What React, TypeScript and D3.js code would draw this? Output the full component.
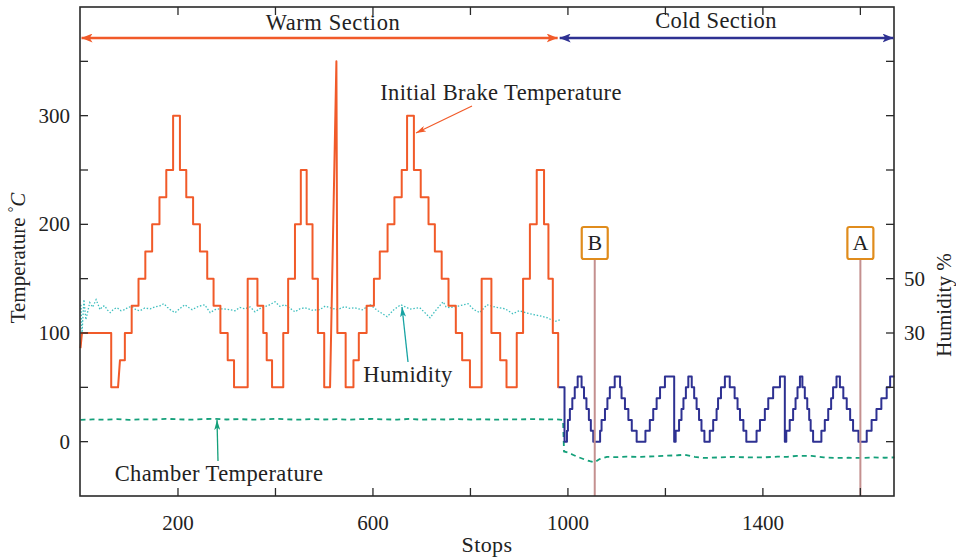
import React, { useEffect, useRef } from 'react';
import * as d3 from 'd3';

const W = 956;
const H = 557;

const xTicks = [200, 400, 600, 800, 1000, 1200, 1400, 1600];
const xLabeled = [200, 600, 1000, 1400];
const yTicks = [0, 50, 100, 150, 200, 250, 300, 350];
const yLabeled = [0, 100, 200, 300];
const humidityTicks = [-10, 10, 30, 50, 70, 90, 110, 130];
const humidityLabeled = [30, 50];

// Initial brake temperature, warm section: [stop, temperature, ramp(1) or step]
const warmBrake: number[][] = [
  [0, 86], [3, 100, 1], [63, 50], [77, 50], [81, 75, 1], [91, 100], [105, 125], [119, 150],
  [133, 175], [147, 200], [162, 225], [176, 250], [190, 300], [204, 250], [217, 225],
  [231, 200], [245, 175], [260, 150], [273, 125], [287, 100], [302, 75], [315, 50],
  [343, 150], [363, 125], [375, 100], [382, 75], [393, 50], [416, 100], [426, 150],
  [440, 200], [452, 250], [464, 200], [476, 150], [487, 100], [500, 50], [512, 50],
  [525, 350, 1], [527, 100, 1], [544, 50], [560, 75], [571, 100], [587, 125], [602, 150],
  [614, 175], [630, 200], [644, 225], [659, 250], [670, 300], [684, 250], [698, 225],
  [714, 200], [727, 175], [741, 150], [755, 125], [770, 100], [783, 75], [799, 50],
  [823, 150], [843, 100], [861, 75], [874, 50], [895, 100], [908, 150], [922, 200],
  [936, 250], [951, 200], [960, 150], [969, 100], [980, 50], [981, 50],
];

// Initial brake temperature, cold section
const coldBrake: number[][] = [
  [981, 50], [993, 0], [998, 10], [1000, 20], [1004, 30], [1009, 40], [1014, 50], [1020, 60],
  [1028, 50], [1033, 40], [1038, 30], [1043, 20], [1047, 10], [1052, 0],
  [1066, 10], [1069, 20], [1076, 30], [1081, 40], [1086, 50], [1096, 60],
  [1107, 50], [1110, 40], [1117, 30], [1124, 20], [1131, 10], [1141, 0],
  [1159, 10], [1168, 20], [1175, 30], [1182, 40], [1189, 50], [1199, 60], [1218, 0],
  [1221, 10], [1228, 20], [1233, 30], [1237, 40], [1242, 50], [1247, 60],
  [1254, 50], [1259, 40], [1264, 30], [1269, 20], [1274, 10], [1280, 0],
  [1291, 10], [1298, 20], [1305, 30], [1308, 40], [1314, 50], [1322, 60],
  [1332, 50], [1342, 40], [1348, 30], [1353, 20], [1360, 10], [1366, 0],
  [1387, 10], [1394, 20], [1404, 30], [1411, 40], [1421, 50], [1435, 60], [1445, 0],
  [1448, 10], [1455, 20], [1462, 30], [1467, 40], [1471, 50], [1476, 60],
  [1481, 50], [1486, 40], [1491, 30], [1495, 20], [1498, 10], [1503, 0],
  [1520, 10], [1527, 20], [1534, 30], [1540, 40], [1544, 50], [1551, 60],
  [1558, 50], [1565, 40], [1572, 30], [1579, 20], [1585, 10], [1596, 0],
  [1613, 10], [1623, 20], [1633, 30], [1643, 40], [1654, 50], [1661, 60], [1670, 60],
];

// Humidity % (right axis), warm section
const humidity: number[][] = [
  [1, 40.4], [3, 29.4], [5, 36], [7, 42.3], [11, 34.9], [15, 38], [19, 41.2], [25, 39.5],
  [32, 42.3], [36, 40.5], [40, 38.6], [45, 39.8], [50, 40], [55, 38.5], [61, 37.5],
  [68, 38.8], [75, 39.3], [83, 38.2], [91, 38.6], [98, 39.5], [106, 39.7], [114, 38.5],
  [122, 38.2], [132, 39.2], [143, 38.9], [153, 39.6], [163, 40], [171, 40.8], [178, 39.5],
  [184, 38.6], [194, 37.5], [204, 39], [214, 40.4], [222, 39.4], [229, 38.6], [242, 39.8],
  [255, 40.4], [266, 37.5], [276, 38.6], [286, 38.9], [300, 38.8], [317, 38.2], [327, 39.4],
  [337, 38.9], [348, 39.6], [358, 37.8], [370, 39.2], [385, 40.1], [399, 41.5], [409, 39.8],
  [419, 40.4], [430, 39.1], [440, 37.8], [450, 38.9], [460, 39.3], [475, 38.4], [491, 38.6],
  [502, 39.9], [512, 39.3], [527, 38.6], [542, 39.7], [552, 39.1], [563, 39.3], [578, 38.5],
  [594, 40.4], [610, 38.2], [629, 36], [643, 38.6], [657, 40.4], [676, 38.8], [696, 39.3],
  [707, 37.4], [717, 35.6], [731, 38.8], [744, 41.5], [750, 39.6], [758, 39.3], [775, 39.9],
  [795, 40.8], [807, 38.6], [819, 37.5], [834, 40.4], [852, 39.5], [871, 38.9], [887, 37.1],
  [900, 38.2], [915, 37.4], [932, 36.7], [945, 36.2], [958, 35.6], [973, 34.2], [984, 34.9],
];

// Chamber temperature
const chamber: number[][] = [
  [0, 20], [25, 20.5], [50, 20.2], [75, 20.8], [100, 20], [125, 20.6], [150, 20.4],
  [175, 21], [200, 20.6], [225, 20.2], [250, 20.8], [275, 21], [300, 20.4], [325, 20.8],
  [350, 20.2], [375, 20.6], [400, 21], [425, 20.5], [450, 20.2], [475, 20.8], [500, 20.4],
  [525, 20.7], [550, 20.2], [575, 20.8], [600, 20.9], [625, 20.5], [650, 20.3], [675, 20.9],
  [700, 20.2], [725, 20.6], [750, 20.4], [775, 20.8], [800, 20.3], [825, 20.7], [850, 20.2],
  [875, 20.6], [900, 20.4], [925, 20.8], [950, 20.5], [975, 20.6], [990, 20], [992, -9],
  [1000, -10], [1010, -12], [1020, -14], [1035, -16.5], [1045, -18], [1055, -19], [1065, -16],
  [1080, -14], [1100, -14.3], [1120, -13.8], [1150, -14], [1175, -13.5], [1200, -13],
  [1225, -12.5], [1240, -12], [1260, -14], [1280, -15], [1310, -14.5], [1340, -14],
  [1370, -14.5], [1400, -14.5], [1430, -13.8], [1450, -14], [1470, -13], [1500, -13],
  [1525, -14.5], [1550, -15], [1575, -14.8], [1600, -15], [1625, -14.5], [1650, -14.8], [1670, -14.5],
];

const markers = [
  { label: 'B', stop: 1055 },
  { label: 'A', stop: 1600 },
];

const sectionStart = 0;
const sectionBoundary = 981;
const sectionEnd = 1670;

const COLORS = {
  warm: '#f15a29',
  cold: '#2e3192',
  humidity: '#3fbfbf',
  chamber: '#14a07a',
  marker: '#c4908f',
  box: '#e08c1c',
  axis: '#2a2a2a',
};

const FONT = "'Liberation Serif', 'DejaVu Serif', serif";

function stepPoints(bps: number[][]): [number, number][] {
  const pts: [number, number][] = [];
  let prev: number | null = null;
  for (const bp of bps) {
    const [s, t, ramp] = bp;
    if (prev === null || ramp) pts.push([s, t]);
    else {
      pts.push([s, prev]);
      pts.push([s, t]);
    }
    prev = t;
  }
  return pts;
}

export default function App() {
  const ref = useRef<SVGSVGElement | null>(null);

  useEffect(() => {
    const svg = d3.select(ref.current);
    svg.selectAll('*').remove();

    const left = 80, right = 894, top = 7, bottom = 496;
    const x = d3.scaleLinear().domain([0, 1670]).range([left + 0.5, right + 0.5]);
    const y = d3.scaleLinear().domain([-50, 400]).range([bottom, top]);
    const yH = d3.scaleLinear().domain([-30, 150]).range([bottom, top]);

    const defs = svg.append('defs');
    const mk = (id: string, color: string, w: number, h: number) => {
      defs.append('marker')
        .attr('id', id)
        .attr('viewBox', `0 0 ${w} ${h}`)
        .attr('refX', w)
        .attr('refY', h / 2)
        .attr('markerWidth', w)
        .attr('markerHeight', h)
        .attr('markerUnits', 'userSpaceOnUse')
        .attr('orient', 'auto-start-reverse')
        .append('path')
        .attr('d', `M0,0 L${w},${h / 2} L0,${h} L${w * 0.25},${h / 2} Z`)
        .attr('fill', color);
    };
    mk('warmHead', COLORS.warm, 11, 9);
    mk('coldHead', COLORS.cold, 11, 9);
    mk('annWarm', COLORS.warm, 10, 6);
    mk('annHum', '#17a3a3', 10, 6);
    mk('annCh', COLORS.chamber, 10, 6);

    const line = d3.line<[number, number]>()
      .x((d) => x(d[0]))
      .y((d) => y(d[1]));

    // chamber temperature
    svg.append('path')
      .attr('d', line(chamber as [number, number][]))
      .attr('fill', 'none')
      .attr('stroke', COLORS.chamber)
      .attr('stroke-width', 1.8)
      .attr('stroke-dasharray', '5,4');

    // humidity
    const hLine = d3.line<number[]>().x((d) => x(d[0])).y((d) => yH(d[1])).curve(d3.curveLinear);
    svg.append('path')
      .attr('d', hLine(humidity))
      .attr('fill', 'none')
      .attr('stroke', COLORS.humidity)
      .attr('stroke-width', 1.3)
      .attr('stroke-dasharray', '1.5,1.8');

    // brake temperatures
    svg.append('path')
      .attr('d', line(stepPoints(warmBrake)))
      .attr('fill', 'none')
      .attr('stroke', COLORS.warm)
      .attr('stroke-width', 2)
      .attr('stroke-linejoin', 'round');
    svg.append('path')
      .attr('d', line(stepPoints(coldBrake)))
      .attr('fill', 'none')
      .attr('stroke', COLORS.cold)
      .attr('stroke-width', 2)
      .attr('stroke-linejoin', 'round');

    // markers A / B
    markers.forEach((m) => {
      const mx = x(m.stop);
      svg.append('line')
        .attr('x1', mx).attr('x2', mx)
        .attr('y1', 259).attr('y2', bottom)
        .attr('stroke', COLORS.marker).attr('stroke-width', 2);
      svg.append('rect')
        .attr('x', mx - 13).attr('y', 227)
        .attr('width', 26).attr('height', 32)
        .attr('rx', 2)
        .attr('fill', '#fff')
        .attr('stroke', COLORS.box).attr('stroke-width', 2.2);
      svg.append('text')
        .attr('x', mx).attr('y', 250)
        .attr('text-anchor', 'middle')
        .attr('font-family', FONT).attr('font-size', 22)
        .attr('fill', '#222')
        .text(m.label);
    });

    // axes frame
    svg.append('rect')
      .attr('x', left).attr('y', top)
      .attr('width', right - left).attr('height', bottom - top)
      .attr('fill', 'none').attr('stroke', COLORS.axis).attr('stroke-width', 1.6);

    const tickLen = 8;
    const g = svg.append('g').attr('stroke', COLORS.axis).attr('stroke-width', 1.3);
    xTicks.forEach((v) => {
      g.append('line').attr('x1', x(v)).attr('x2', x(v)).attr('y1', bottom).attr('y2', bottom - tickLen);
      g.append('line').attr('x1', x(v)).attr('x2', x(v)).attr('y1', top).attr('y2', top + tickLen);
    });
    yTicks.forEach((v) => {
      g.append('line').attr('x1', left).attr('x2', left + tickLen).attr('y1', y(v)).attr('y2', y(v));
    });
    humidityTicks.forEach((v) => {
      g.append('line').attr('x1', right).attr('x2', right - tickLen).attr('y1', yH(v)).attr('y2', yH(v));
    });

    const txt = (xx: number, yy: number, s: string, size: number, anchor = 'middle', ls = 0) =>
      svg.append('text')
        .attr('x', xx).attr('y', yy)
        .attr('text-anchor', anchor)
        .attr('font-family', FONT)
        .attr('font-size', size)
        .attr('letter-spacing', ls)
        .attr('fill', '#222')
        .text(s);

    xLabeled.forEach((v) => txt(x(v), 530, String(v), 21));
    yLabeled.forEach((v) => txt(70, y(v) + 7, String(v), 21, 'end'));
    humidityLabeled.forEach((v) => txt(904, yH(v) + 7, String(v), 21, 'start'));

    txt(487, 552, 'Stops', 22, 'middle', 0.4);

    const yl = svg.append('text')
      .attr('transform', `translate(25,258) rotate(-90)`)
      .attr('text-anchor', 'middle')
      .attr('font-family', FONT).attr('font-size', 21).attr('fill', '#222');
    yl.append('tspan').text('Temperature ');
    yl.append('tspan').attr('font-size', 14).attr('dy', -7).text('\u00B0');
    yl.append('tspan').attr('dy', 7).attr('font-style', 'italic').text('C');

    svg.append('text')
      .attr('transform', `translate(951,305) rotate(-90)`)
      .attr('text-anchor', 'middle')
      .attr('font-family', FONT).attr('font-size', 21).attr('fill', '#222')
      .text('Humidity %');

    // section arrows
    const arrowY = 38;
    svg.append('line')
      .attr('x1', x(sectionStart) + 1).attr('x2', x(sectionBoundary) - 1)
      .attr('y1', arrowY).attr('y2', arrowY)
      .attr('stroke', COLORS.warm).attr('stroke-width', 2.6)
      .attr('marker-start', 'url(#warmHead)').attr('marker-end', 'url(#warmHead)');
    svg.append('line')
      .attr('x1', x(sectionBoundary) + 1).attr('x2', x(sectionEnd) - 1)
      .attr('y1', arrowY).attr('y2', arrowY)
      .attr('stroke', COLORS.cold).attr('stroke-width', 2.6)
      .attr('marker-start', 'url(#coldHead)').attr('marker-end', 'url(#coldHead)');
    txt(333, 30, 'Warm Section', 22.5, 'middle', 0.6);
    txt(716, 28, 'Cold Section', 22.5, 'middle', 0.4);

    // annotations
    txt(501, 100, 'Initial Brake Temperature', 22.5, 'middle', 0.4);
    svg.append('line')
      .attr('x1', 472).attr('y1', 106).attr('x2', 416).attr('y2', 133)
      .attr('stroke', COLORS.warm).attr('stroke-width', 1.2)
      .attr('marker-end', 'url(#annWarm)');

    txt(408, 382, 'Humidity', 22.5, 'middle', 0.4);
    svg.append('line')
      .attr('x1', 408).attr('y1', 362).attr('x2', 402).attr('y2', 307)
      .attr('stroke', '#17a3a3').attr('stroke-width', 1.3)
      .attr('marker-end', 'url(#annHum)');

    txt(219, 481, 'Chamber Temperature', 22.5, 'middle', 0.4);
    svg.append('line')
      .attr('x1', 218).attr('y1', 461).attr('x2', 217).attr('y2', 420)
      .attr('stroke', COLORS.chamber).attr('stroke-width', 1.3)
      .attr('marker-end', 'url(#annCh)');
  }, []);

  return (
    <svg
      ref={ref}
      width={W}
      height={H}
      style={{ position: 'absolute', left: 0, top: 0, background: '#fff' }}
    />
  );
}
